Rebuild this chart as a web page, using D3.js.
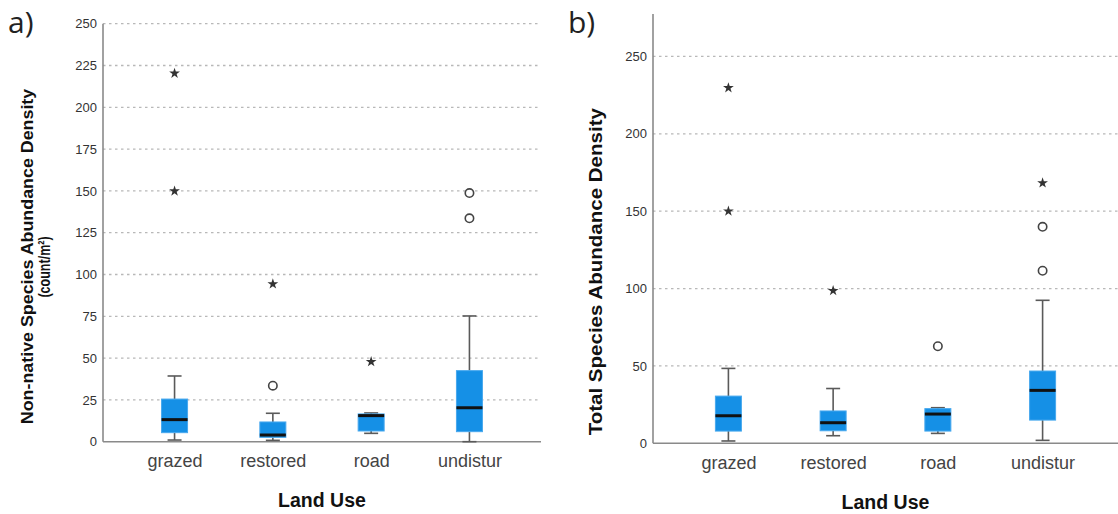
<!DOCTYPE html>
<html>
<head>
<meta charset="utf-8">
<script src="https://cdn.jsdelivr.net/npm/d3@7"></script>
<style>
  html, body { margin: 0; padding: 0; background: #fff; }
  svg { display: block; }
</style>
</head>
<body>
<svg id="chart" width="1118" height="514"></svg>
<script>
// Land-use categories shared by both panels
const categories = ["grazed", "restored", "road", "undistur"];

// a) Non-native species abundance density (count/m²)
const nonNativeTicks = [0, 25, 50, 75, 100, 125, 150, 175, 200, 225, 250];
const nonNativeWhiskerLow = [1, 0.8, 5, 0];
const nonNativeQ1 = [5.4, 2.6, 6.4, 6];
const nonNativeMedian = [13.2, 4, 15.6, 20.3];
const nonNativeQ3 = [25.5, 11.8, 16.6, 42.5];
const nonNativeWhiskerHigh = [39.3, 17, 17.2, 75.2];
const nonNativeExtremes = [[220.3, 149.9], [94.3], [47.8], []];
const nonNativeOutliers = [[], [33.5], [], [148.7, 133.6]];

// b) Total species abundance density
const totalTicks = [0, 50, 100, 150, 200, 250];
const totalWhiskerLow = [1.5, 4.9, 6.4, 1.9];
const totalQ1 = [7.9, 8.1, 7.9, 15];
const totalMedian = [17.8, 13.3, 18.9, 34.2];
const totalQ3 = [30.5, 20.9, 22.4, 46.7];
const totalWhiskerHigh = [48.4, 35.4, 23, 92.4];
const totalExtremes = [[229.7, 150], [98.6], [], [168.2]];
const totalOutliers = [[], [], [62.7], [139.9, 111.5]];

const svg = d3.select("#chart");
const BOX_FILL = "#1590e6";
const BOX_EDGE = "#47a8ee";

function drawPanel(cfg) {
  const g = svg.append("g");
  const x = d3.scalePoint().domain(categories).range([cfg.left, cfg.right]).padding(cfg.pad);
  const y = d3.scaleLinear().domain([0, cfg.yMax]).range([cfg.bottom, cfg.top]);

  // dotted gridlines
  g.append("g").selectAll("line").data(cfg.ticks.filter(t => t > 0)).join("line")
    .attr("x1", cfg.left).attr("x2", cfg.right)
    .attr("y1", d => y(d)).attr("y2", d => y(d))
    .attr("stroke", "#b8b8b8").attr("stroke-width", 1.3).attr("stroke-dasharray", "2.5,3.5");

  // y axis
  const yAxis = g.append("g").attr("transform", `translate(${cfg.left},0)`)
    .call(d3.axisLeft(y).tickValues(cfg.ticks).tickSize(0).tickPadding(6));
  yAxis.select(".domain").remove();
  yAxis.selectAll("text").attr("fill", "#333").attr("font-size", 13)
    .attr("font-family", "'Liberation Sans', Arial, sans-serif");

  g.append("line").attr("x1", cfg.left).attr("x2", cfg.left)
    .attr("y1", cfg.axisTop).attr("y2", cfg.bottom)
    .attr("stroke", "#8a8a8a").attr("stroke-width", 1.6);

  // x axis baseline + category labels
  const xAxis = g.append("g").attr("transform", `translate(0,${cfg.bottom})`)
    .call(d3.axisBottom(x).tickSize(0).tickPadding(13));
  xAxis.select(".domain").remove();
  xAxis.selectAll("text").attr("fill", "#444").attr("font-size", 18)
    .attr("font-family", "'Liberation Sans', Arial, sans-serif");
  g.append("line").attr("x1", cfg.left).attr("x2", cfg.right)
    .attr("y1", cfg.bottom).attr("y2", cfg.bottom)
    .attr("stroke", "#8a8a8a").attr("stroke-width", 1.6);

  const rows = categories.map((c, i) => ({
    c, lo: cfg.lo[i], q1: cfg.q1[i], med: cfg.med[i], q3: cfg.q3[i], hi: cfg.hi[i],
    ext: cfg.ext[i], out: cfg.out[i]
  }));
  const bw = 26, cap = 14;

  const box = g.append("g").selectAll("g").data(rows).join("g")
    .attr("transform", d => `translate(${x(d.c)},0)`);

  // whiskers
  box.append("line").attr("y1", d => y(d.hi)).attr("y2", d => y(d.q3))
    .attr("stroke", "#5a5a5a").attr("stroke-width", 1.6);
  box.append("line").attr("y1", d => y(d.lo)).attr("y2", d => y(d.q1))
    .attr("stroke", "#5a5a5a").attr("stroke-width", 1.6);
  box.append("line").attr("x1", -cap / 2).attr("x2", cap / 2)
    .attr("y1", d => y(d.hi)).attr("y2", d => y(d.hi))
    .attr("stroke", "#5a5a5a").attr("stroke-width", 1.6);
  box.append("line").attr("x1", -cap / 2).attr("x2", cap / 2)
    .attr("y1", d => y(d.lo)).attr("y2", d => y(d.lo))
    .attr("stroke", "#5a5a5a").attr("stroke-width", 1.6);

  // interquartile box
  box.append("rect").attr("x", -bw / 2).attr("width", bw)
    .attr("y", d => y(d.q3)).attr("height", d => y(d.q1) - y(d.q3))
    .attr("fill", BOX_FILL).attr("stroke", BOX_EDGE).attr("stroke-width", 1);

  // median
  box.append("line").attr("x1", -bw / 2).attr("x2", bw / 2)
    .attr("y1", d => y(d.med)).attr("y2", d => y(d.med))
    .attr("stroke", "#111").attr("stroke-width", 3);

  // extreme values (stars)
  const star = d3.symbol().type(d3.symbolStar).size(36);
  box.selectAll("path.ext").data(d => d.ext).join("path").attr("class", "ext")
    .attr("d", star).attr("transform", v => `translate(0,${y(v)})`)
    .attr("fill", "#333");

  // outliers (open circles)
  box.selectAll("circle.out").data(d => d.out).join("circle").attr("class", "out")
    .attr("cy", v => y(v)).attr("r", 4.2)
    .attr("fill", "#fff").attr("stroke", "#444").attr("stroke-width", 1.6);

  // x axis title
  g.append("text").attr("x", (cfg.left + cfg.right) / 2).attr("y", cfg.xTitleY)
    .attr("text-anchor", "middle").attr("font-weight", "bold").attr("font-size", 19.5)
    .attr("font-family", "'Liberation Sans', Arial, sans-serif").attr("fill", "#111")
    .text("Land Use");

  // y axis title lines (horizontally scaled along the reading direction)
  cfg.yTitle.forEach(t => {
    g.append("text")
      .attr("transform", `translate(${t.x},${t.cy}) rotate(-90) scale(${t.sx},1)`)
      .attr("text-anchor", "middle").attr("font-weight", "bold").attr("font-size", t.size)
      .attr("font-family", "'Liberation Sans', Arial, sans-serif").attr("fill", "#111")
      .text(t.text);
  });

  // panel letter
  svg.append("text").attr("x", cfg.letterX).attr("y", 33)
    .attr("font-size", 30).attr("font-family", "'Open Sans', 'DejaVu Sans', sans-serif")
    .attr("fill", "#222").text(cfg.letter);
}

drawPanel({
  letter: "a)", letterX: 8,
  left: 103, right: 541, pad: 0.728, top: 23.7, bottom: 441.7, axisTop: 23.7, yMax: 250,
  ticks: nonNativeTicks,
  lo: nonNativeWhiskerLow, q1: nonNativeQ1, med: nonNativeMedian, q3: nonNativeQ3, hi: nonNativeWhiskerHigh,
  ext: nonNativeExtremes, out: nonNativeOutliers,
  xTitleY: 507,
  yTitle: [
    { text: "Non-native Species Abundance Density", x: 33, cy: 256.5, size: 17, sx: 1.05 },
    { text: "(count/m²)", x: 50, cy: 267, size: 16.5, sx: 0.76 }
  ]
});

drawPanel({
  letter: "b)", letterX: 568,
  left: 653, right: 1118, pad: 0.72, top: 14, bottom: 443.3, axisTop: 14, yMax: 277.4,
  ticks: totalTicks,
  lo: totalWhiskerLow, q1: totalQ1, med: totalMedian, q3: totalQ3, hi: totalWhiskerHigh,
  ext: totalExtremes, out: totalOutliers,
  xTitleY: 509,
  yTitle: [
    { text: "Total Species Abundance Density", x: 602, cy: 271.7, size: 18.5, sx: 1.11 }
  ]
});
</script>
</body>
</html>
